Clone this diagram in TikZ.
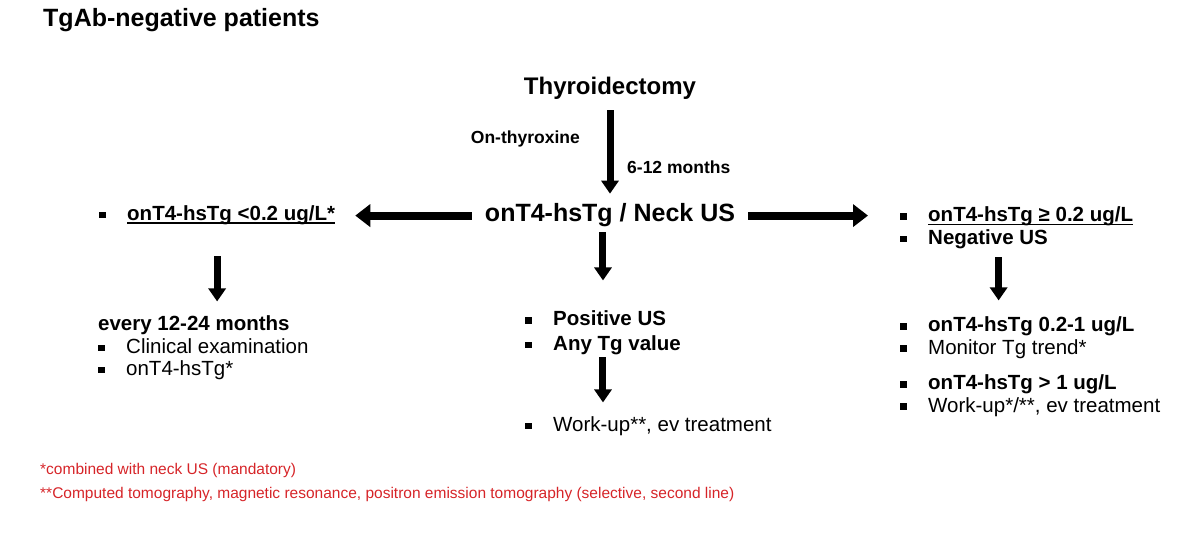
\documentclass[tikz,border=0pt]{standalone}
\usepackage{fontspec}
\setmainfont{Liberation Sans}
\usetikzlibrary{arrows.meta}
\definecolor{notered}{RGB}{214,36,40}
\newcommand\sqbul{\makebox[28pt][l]{\rule[2pt]{6.5pt}{6.5pt}}}
\newcommand\undl[1]{\setbox0\hbox{#1}\rlap{\rule[-3.4pt]{\wd0}{1.5pt}}\box0}
\newcommand\fs[1]{\fontsize{#1}{22.5}\selectfont}

\begin{document}
\begin{tikzpicture}[x=1pt, y=-1pt,
	every node/.style={inner sep=0pt, font=\fs{20.5}},
	txt/.style={anchor=base west, align=left},
	harrow/.style={line width=8pt, -{Triangle[length=15pt,width=22pt]}},
	varrow/.style={line width=7pt, -{Triangle[length=13pt,width=17pt]}}]
	\useasboundingbox (0,0) rectangle (1195,556);
	\node[txt, font=\fs{25}\bfseries] (title) at (43,27) {TgAb-negative patients};
	\node[anchor=base, font=\fs{24}\bfseries] (thyr) at (610,95) {Thyroidectomy};
	\node[anchor=base, font=\fs{25}\bfseries] (main) at (610,222) {onT4-hsTg / Neck US};
	\node[anchor=base east, font=\fs{17.5}\bfseries] (onthy) at (580,144) {On-thyroxine};
	\node[anchor=base west, font=\fs{17.5}\bfseries] (months) at (627,174) {6-12 months};
	\draw[varrow, shorten <=10pt, shorten >=10pt] (thyr.south) -- (main.north);
	% left branch (base = last line)
	\node[txt, font=\fs{20.5}\bfseries] (low) at (99,220.5) {\sqbul\undl{onT4-hsTg <0.2 ug/L*}};
	\node[txt] (lowfu) at (98,375.5) {\textbf{every 12-24 months}\\\sqbul Clinical examination\\\sqbul onT4-hsTg*};
	\draw[harrow, shorten <=13pt, shorten >=20pt] (main.west) -- (main.west -| low.east);
	\draw[varrow, shorten <=31pt, shorten >=14pt] (low.south) -- (low.south |- lowfu.north);
	% middle branch
	\node[txt, font=\fs{20.5}\bfseries] (pos) at (525,350.5) {\sqbul Positive US\\[2.5pt]\sqbul Any Tg value};
	\node[txt] (work) at (525,431.5) {\sqbul Work-up**, ev treatment};
	\draw[varrow, shorten <=5pt, shorten >=30pt] (main.south -| pos.north) -- (pos.north);
	\draw[varrow, shorten <=2pt, shorten >=14pt] (pos.south) -- (pos.south |- work.north);
	% right branch
	\node[txt, font=\fs{20.5}\bfseries] (high) at (900,244.5) {\sqbul\undl{onT4-hsTg ≥ 0.2 ug/L}\\\sqbul Negative US};
	\node[txt] (mid) at (900,354) {\sqbul\textbf{onT4-hsTg 0.2-1 ug/L}\\\sqbul Monitor Tg trend*};
	\node[txt] (top) at (900,412) {\sqbul\textbf{onT4-hsTg > 1 ug/L}\\\sqbul Work-up*/**, ev treatment};
	\draw[harrow, shorten <=13pt, shorten >=32pt] (main.east) -- (main.east -| high.west);
	\draw[varrow, shorten <=8pt, shorten >=16pt] ([xshift=-18pt]high.south) -- ([xshift=-18pt]high.south |- mid.north);
	% footnotes
	\node[txt, font=\fs{15.5}, text=notered] (fn1) at (40,474) {*combined with neck US (mandatory)};
	\node[txt, font=\fs{15.5}, text=notered] (fn2) at (40,498) {**Computed tomography, magnetic resonance, positron emission tomography (selective, second line)};
\end{tikzpicture}
\end{document}
